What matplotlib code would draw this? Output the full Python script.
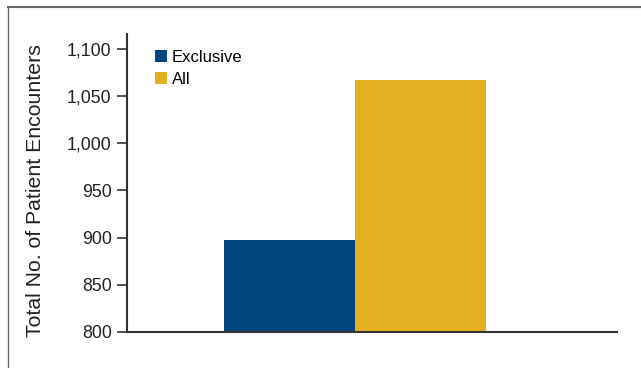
import matplotlib.pyplot as plt
from matplotlib.lines import Line2D

plt.rcParams['font.family'] = ['Liberation Sans', 'DejaVu Sans']

categorias = ['Exclusive', 'All']
valores = [897, 1067]
cores = ['#00457f', '#e3b020']
yticks = [800, 850, 900, 950, 1000, 1050, 1100]

fig = plt.figure(figsize=(6.41, 3.68), dpi=100)
ax = fig.add_axes([0.198, 0.098, 0.7646, 0.81])

for i in range(len(categorias)):
    ax.bar(i, valores[i] - 800, bottom=800, width=1.0, color=cores[i], label=categorias[i])

ax.set_xlim(-1.24, 2.5)
ax.set_ylim(800, 1116)
ax.set_yticks(yticks)
ax.set_yticklabels(['{:,}'.format(v) for v in yticks], fontsize=12.8, color='#222222')
ax.set_xticks([])
ax.set_ylabel('Total No. of Patient Encounters', fontsize=15.3, color='#222222')
ax.yaxis.set_label_coords(-0.167, 0.473)

for s in ['top', 'right']:
    ax.spines[s].set_visible(False)
ax.spines['left'].set_color('#333333')
ax.spines['bottom'].set_color('#333333')
ax.spines['left'].set_linewidth(1.5)
ax.spines['bottom'].set_linewidth(1.5)
ax.tick_params(axis='y', length=7, width=1.2, color='#333333', pad=4)

ax.legend(loc='upper left', bbox_to_anchor=(0.034, 0.985), frameon=False, fontsize=12,
          handlelength=0.7, handleheight=0.7, handletextpad=0.3, labelspacing=0.4,
          borderaxespad=0.3)

# moldura cinza (topo e esquerda)
fig.add_artist(Line2D([8/641, 1], [1 - 7/368, 1 - 7/368], color='#666666', lw=1.5, transform=fig.transFigure))
fig.add_artist(Line2D([8/641, 8/641], [0, 1 - 7/368], color='#666666', lw=1.0, transform=fig.transFigure))

plt.savefig('out.png', dpi=100)
